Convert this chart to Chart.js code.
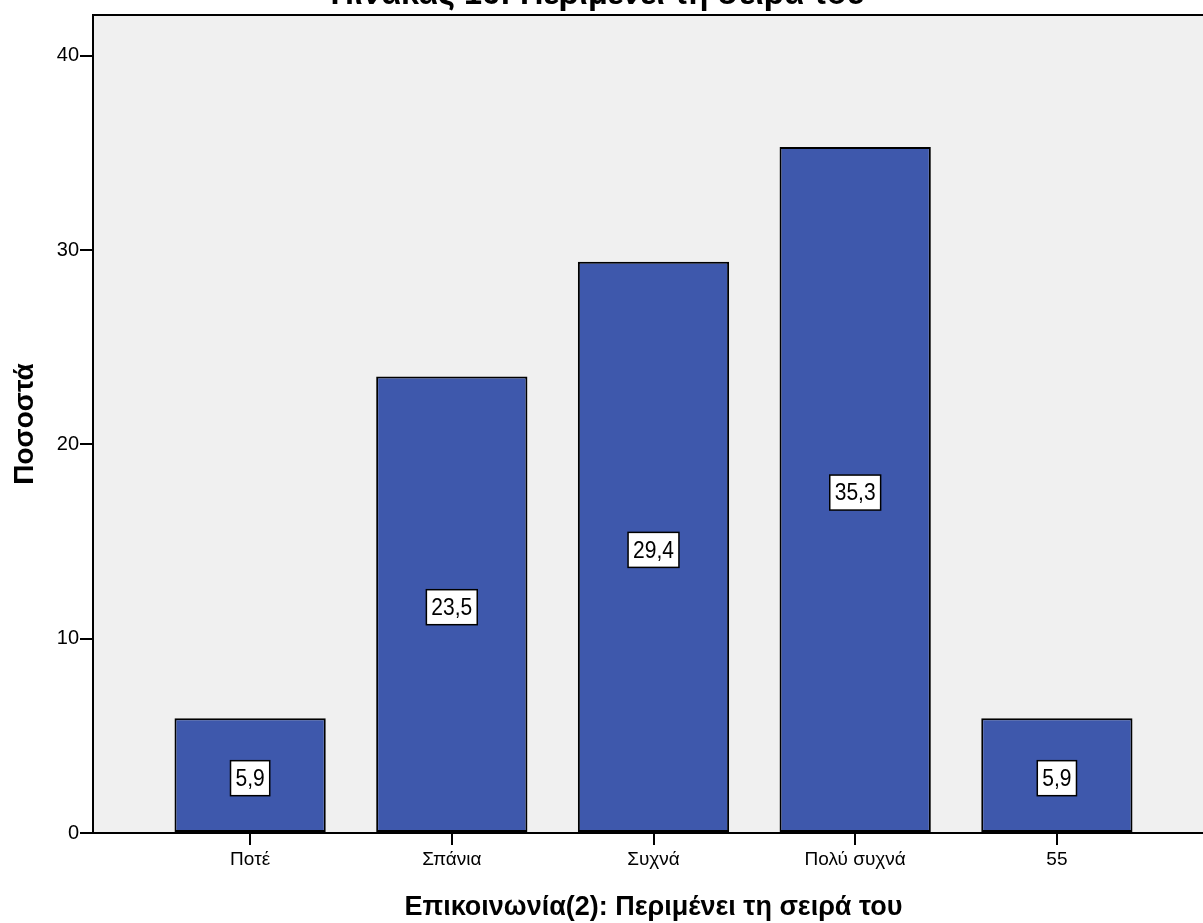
<!DOCTYPE html>
<html>
<head>
<meta charset="utf-8">
<script src="https://cdn.jsdelivr.net/npm/chart.js@4"></script>
<style>
  html, body { margin: 0; padding: 0; background: #fff; overflow: hidden; }
  #wrap { position: relative; width: 1203px; height: 923px; overflow: hidden; }
  #box { position: absolute; left: 0; top: 0; width: 1214px; height: 923px; }
</style>
</head>
<body>
<div id="wrap"><div id="box"><canvas id="c"></canvas></div></div>
<script>
// Response categories and percentages
const categories = ['Ποτέ', 'Σπάνια', 'Συχνά', 'Πολύ συχνά', '55'];
const percents = [5.9, 23.5, 29.4, 35.3, 5.9];
const yTicks = [0, 10, 20, 30, 40];

const chartTitle = 'Πίνακας 16: Περιμένει τη σειρά του';
const xTitle = 'Επικοινωνία(2): Περιμένει τη σειρά του';
const yTitle = 'Ποσοστά';

const FONT = 'Arial, "Liberation Sans", sans-serif';

// Grey plot background, top frame line and the chart heading
const plotFrame = {
  id: 'plotFrame',
  beforeDraw(chart) {
    const { ctx, chartArea: a } = chart;
    ctx.save();
    ctx.fillStyle = '#F0F0F0';
    ctx.fillRect(a.left, a.top, a.right - a.left, a.bottom - a.top);
    ctx.strokeStyle = '#000';
    ctx.lineWidth = 2;
    ctx.beginPath();
    ctx.moveTo(a.left, a.top);
    ctx.lineTo(a.right, a.top);
    ctx.stroke();
    ctx.restore();
  },
  afterDraw(chart) {
    const { ctx } = chart;
    ctx.save();
    ctx.fillStyle = '#000';
    ctx.font = 'bold 29px ' + FONT;
    ctx.textAlign = 'center';
    ctx.textBaseline = 'alphabetic';
    ctx.translate(598, 4);
    ctx.scale(1.12, 1.15);
    ctx.fillText(chartTitle, 0, 0);
    ctx.restore();
  }
};

// Boxed value labels in the middle of each bar
const valueBoxes = {
  id: 'valueBoxes',
  afterDatasetsDraw(chart) {
    const { ctx } = chart;
    const meta = chart.getDatasetMeta(0);
    ctx.save();
    ctx.font = '21px ' + FONT;
    ctx.textAlign = 'center';
    ctx.textBaseline = 'middle';
    meta.data.forEach((bar, i) => {
      const txt = percents[i].toFixed(1).replace('.', ',');
      const w = ctx.measureText(txt).width + 10;
      const h = 35;
      const cx = bar.x;
      const cy = (bar.y + bar.base) / 2 + 3;
      ctx.fillStyle = '#fff';
      ctx.fillRect(cx - w / 2, cy - h / 2, w, h);
      ctx.strokeStyle = '#000';
      ctx.lineWidth = 1.5;
      ctx.strokeRect(cx - w / 2, cy - h / 2, w, h);
      ctx.fillStyle = '#000';
      ctx.save();
      ctx.translate(cx, cy + 1);
      ctx.scale(1, 1.15);
      ctx.fillText(txt, 0, 0);
      ctx.restore();
    });
    ctx.restore();
  }
};

const span = 0.779;

new Chart(document.getElementById('c'), {
  type: 'bar',
  data: {
    datasets: [{
      data: percents.map((v, i) => ({ x: i, y: v })),
      backgroundColor: '#3E58AC',
      borderColor: '#000',
      borderWidth: 2,
      borderSkipped: false,
      categoryPercentage: 0.75,
      barPercentage: 1.0
    }]
  },
  options: {
    responsive: true,
    maintainAspectRatio: false,
    animation: false,
    layout: { padding: { top: 15, left: 0, right: 0, bottom: 0 } },
    plugins: { legend: { display: false }, tooltip: { enabled: false } },
    scales: {
      x: {
        type: 'linear',
        offset: false,
        min: -span,
        max: categories.length - 1 + span,
        afterBuildTicks(scale) { scale.ticks = categories.map((_, i) => ({ value: i })); },
        afterFit(scale) { scale.height = 90; },
        ticks: {
          color: '#000',
          font: { family: FONT, size: 19 },
          padding: 3,
          maxRotation: 0,
          autoSkip: false,
          callback: (v) => categories[v] ?? ''
        },
        grid: { offset: false, drawOnChartArea: false, drawTicks: true, tickLength: 12, color: '#000', lineWidth: 2 },
        border: { display: true, color: '#000', width: 2 },
        title: {
          display: true,
          text: xTitle,
          color: '#000',
          font: { family: FONT, size: 27, weight: 'bold', lineHeight: 1 },
          padding: { top: 0, bottom: 2 }
        }
      },
      y: {
        min: 0,
        max: 42.1,
        afterBuildTicks(scale) { scale.ticks = yTicks.map(v => ({ value: v })); },
        afterFit(scale) { scale.width = 93; },
        ticks: {
          color: '#000',
          font: { family: FONT, size: 20 },
          padding: 1,
          callback: (v) => String(v)
        },
        grid: { drawOnChartArea: false, drawTicks: true, tickLength: 13, color: '#000', lineWidth: 2 },
        border: { display: true, color: '#000', width: 2 },
        title: {
          display: true,
          text: yTitle,
          color: '#000',
          font: { family: FONT, size: 28, weight: 'bold', lineHeight: 1 },
          padding: { top: 11, bottom: 0 }
        }
      }
    }
  },
  plugins: [plotFrame, valueBoxes]
});
</script>
</body>
</html>
